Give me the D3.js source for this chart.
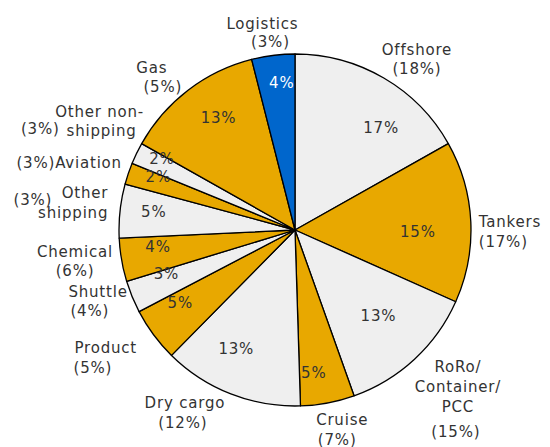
<!DOCTYPE html>
<html>
<head>
<meta charset="utf-8">
<script src="https://cdn.jsdelivr.net/npm/d3@7"></script>
<style>
    body { margin: 0; background: #fff; }
    svg text {
        font-family: "DejaVu Sans", Verdana, sans-serif;
        font-size: 15px;
        letter-spacing: 0.8px;
        fill: #333;
        dominant-baseline: central;
    }
</style>
</head>
<body>
<div id="chart"></div>
<script>
// slices, clockwise from 12 o'clock
const categories = ["Offshore", "Tankers", "RoRo/Container/PCC", "Cruise", "Dry cargo", "Product",
    "Shuttle", "Chemical", "Other shipping", "Aviation", "Other non-shipping", "Gas", "Logistics"];
const shares = [17, 15, 13, 5, 13, 5, 3, 4, 5, 2, 2, 13, 4];
const previousShares = [18, 17, 15, 7, 12, 5, 4, 6, 3, 3, 3, 5, 3];

const gold = "#e8a800", grey = "#efefef", blue = "#0066cc";
const sliceColors = [grey, gold, grey, gold, grey, gold, grey, gold, grey, gold, grey, gold, blue];

// inner label nudges [dx, dy]
const innerNudge = [[16, 18], [-16, 8], [-11, -16], [-7, 6], [-8, -10], [-3, -10], [0, -9],
    [0, -7], [-3, -3], [-5, -8], [-8, -10], [8, -2], [4, -9]];

// outer labels: lines of [text, dx, dy, anchor]; "{p}" is replaced by "(prev%)"
const outerLayout = [
    [["Offshore", 18, -2, "middle"], ["{p}", 18, 17, "middle"]],
    [["Tankers", -22, 2, "start"], ["{p}", -22, 22, "start"]],
    [["RoRo/", 23, -14, "middle"], ["Container/", 23, 6, "middle"], ["PCC", 23, 26, "middle"], ["{p}", 21, 51, "middle"]],
    [["Cruise", 9, -12, "middle"], ["{p}", 4, 8, "middle"]],
    [["Dry cargo", -35, -19, "middle"], ["{p}", -37, 1, "middle"]],
    [["Product", -55, -5, "start"], ["{p}", -56, 15, "start"]],
    [["Shuttle", -36, -16, "start"], ["{p}", -34, 3, "start"]],
    [["Chemical", -17, -13, "middle"], ["{p}", -17, 6, "middle"]],
    [["Other", 18, -15, "end"], ["shipping", 18, 5, "end"], ["{p}", -38, -8, "end"]],
    [["{p}Aviation", 22, -1, "end"]],
    [["Other non-", -10, -28, "middle"], ["shipping", -8, -9, "middle"], ["{p}", -50, -11, "end"]],
    [["Gas", -18, 2, "middle"], ["{p}", -7, 21, "middle"]],
    [["Logistics", -7, -2, "middle"], ["{p}", 1, 16, "middle"]]
];

const width = 550, height = 447;
const cx = 295, cy = 230, radius = 176;

const data = categories.map((c, i) => ({ label: c, value: shares[i], prev: previousShares[i], i: i }));

const pie = d3.pie().sort(null).value(d => d.value);
const arc = d3.arc().innerRadius(0).outerRadius(radius);
const labelArc = d3.arc().innerRadius(radius * 0.79).outerRadius(radius * 0.79);
const outerArc = d3.arc().innerRadius(radius + 30).outerRadius(radius + 30);

const svg = d3.select("#chart").append("svg")
    .attr("width", width)
    .attr("height", height);

const g = svg.append("g")
    .attr("transform", "translate(" + cx + "," + cy + ")");

const arcs = pie(data);

g.selectAll("path")
    .data(arcs)
    .join("path")
        .attr("d", arc)
        .attr("fill", d => sliceColors[d.data.i])
        .attr("stroke", "#000")
        .attr("stroke-width", 1.3)
        .attr("stroke-linejoin", "round");

g.selectAll("text.inner")
    .data(arcs)
    .join("text")
        .attr("class", "inner")
        .attr("text-anchor", "middle")
        .attr("transform", d => {
            const c = labelArc.centroid(d), n = innerNudge[d.data.i];
            return "translate(" + (c[0] + n[0]) + "," + (c[1] + n[1]) + ")";
        })
        .style("fill", d => d.data.i === categories.length - 1 ? "#fff" : "#333")
        .text(d => d.data.value + "%");

arcs.forEach(d => {
    const c = outerArc.centroid(d);
    outerLayout[d.data.i].forEach(line => {
        const txt = line[0].replace("{p}", "(" + d.data.prev + "%)");
        g.append("text")
            .attr("class", "outer")
            .attr("x", c[0] + line[1])
            .attr("y", c[1] + line[2])
            .attr("text-anchor", line[3])
            .text(txt);
    });
});
</script>
</body>
</html>
